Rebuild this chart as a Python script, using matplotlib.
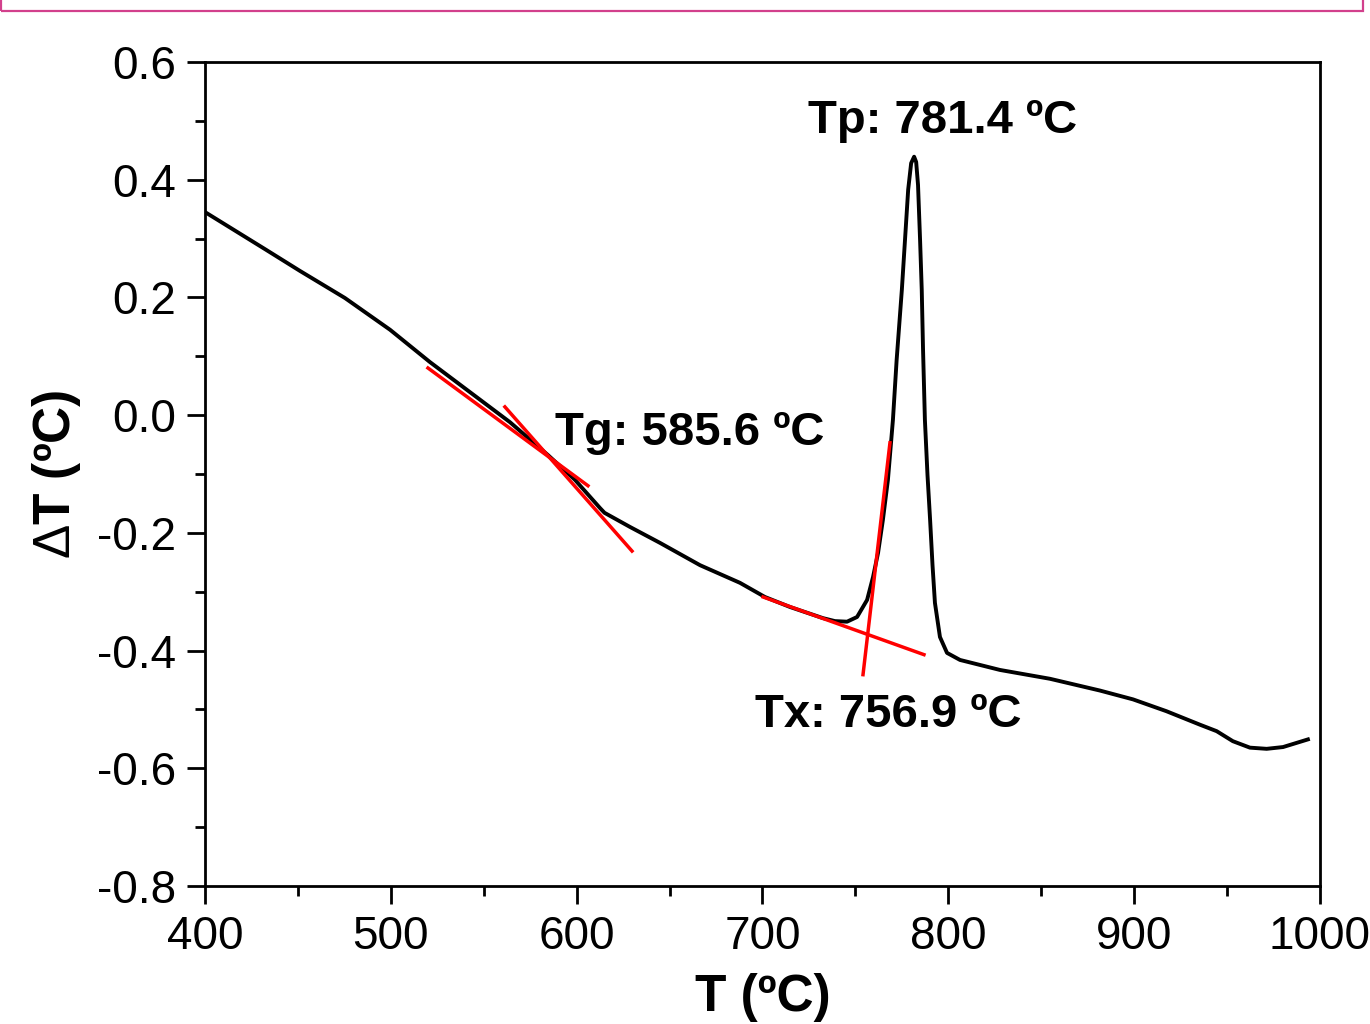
import matplotlib
matplotlib.use('Agg')
import matplotlib.pyplot as plt
from matplotlib.patches import Rectangle

plt.rcParams['font.family'] = ['Liberation Sans', 'DejaVu Sans']
plt.rcParams['mathtext.fontset'] = 'custom'
plt.rcParams['mathtext.rm'] = 'Liberation Sans'
plt.rcParams['axes.unicode_minus'] = False

# DTA curve
T = [400.0, 432.3, 451.1, 475.3, 499.6, 521.1, 542.6, 564.1, 584.6, 599.1,
     612.6, 615.0, 628.7, 644.8, 666.4, 687.9, 701.3, 714.8, 732.6, 739.0,
     745.5, 750.9, 756.3, 759.5, 762.2, 764.8, 767.5, 770.2, 772.2, 775.0,
     776.7, 778.4, 780.0, 781.6, 782.7, 783.7, 784.8, 785.7, 786.4, 787.4,
     788.8, 790.2, 791.5, 792.8, 795.5, 799.3, 806.3, 827.8, 854.7, 881.6,
     899.4, 917.3, 935.4, 944.4, 953.1, 962.3, 971.3, 980.1, 993.5]
dT = [0.345, 0.282, 0.245, 0.199, 0.145, 0.090, 0.039, -0.012, -0.068, -0.110,
      -0.158, -0.166, -0.190, -0.217, -0.255, -0.285, -0.309, -0.326, -0.345, -0.350,
      -0.351, -0.343, -0.314, -0.275, -0.234, -0.178, -0.110, -0.008, 0.094, 0.213,
      0.298, 0.383, 0.428, 0.439, 0.430, 0.391, 0.298, 0.213, 0.111, -0.008,
      -0.102, -0.178, -0.255, -0.319, -0.377, -0.404, -0.416, -0.433, -0.448, -0.468,
      -0.483, -0.503, -0.526, -0.537, -0.554, -0.565, -0.567, -0.564, -0.551]

# tangent lines (x pair, y pair)
tangents = [
    ([520.0, 606.1], [0.080, -0.120]),
    ([561.4, 629.8], [0.014, -0.231]),
    ([700.3, 786.9], [-0.309, -0.407]),
    ([768.6, 754.1], [-0.047, -0.441]),
]

labels = ['Tg: 585.6 ºC', 'Tx: 756.9 ºC', 'Tp: 781.4 ºC']
label_pos = [(588.3, -0.030), (696.0, -0.510), (724.5, 0.500)]

fig = plt.figure(figsize=(13.7, 10.24), dpi=100)
ax = fig.add_axes([0.1496, 0.1348, 0.8139, 0.8047])

ax.plot(T, dT, color='black', lw=2.8, zorder=2, solid_joinstyle='round')
for xs, ys in tangents:
    ax.plot(xs, ys, color='red', lw=2.5, zorder=3)

for txt, (x, y) in zip(labels, label_pos):
    ax.text(x, y, txt, fontsize=34, fontweight='bold', ha='left', va='center')

ax.set_xlim(400, 1000)
ax.set_ylim(-0.8, 0.6)
ax.set_xticks(range(400, 1001, 100))
ax.set_xticks(range(450, 1000, 100), minor=True)
ax.set_yticks([-0.8, -0.6, -0.4, -0.2, 0.0, 0.2, 0.4, 0.6])
ax.set_yticks([-0.7, -0.5, -0.3, -0.1, 0.1, 0.3, 0.5], minor=True)
ax.set_yticklabels(['%.1f' % v for v in [-0.8, -0.6, -0.4, -0.2, 0.0, 0.2, 0.4, 0.6]])

ax.tick_params(which='major', direction='out', length=13, width=2, labelsize=33, pad=8)
ax.tick_params(which='minor', direction='out', length=7, width=2)
for s in ax.spines.values():
    s.set_linewidth(2)

ax.set_xlabel('T (ºC)', fontsize=37, fontweight='bold', labelpad=10)
ax.set_ylabel(r'$\Delta$T (ºC)', fontsize=37, fontweight='bold', labelpad=10)

# pink frame cut at the top
fig.add_artist(Rectangle((1 / 1370, 1 - 11 / 1024), 1362 / 1370, 0.05,
                         transform=fig.transFigure, fill=False,
                         edgecolor='#d2408c', lw=1.6, clip_on=False))

fig.savefig('out.png', dpi=100)
